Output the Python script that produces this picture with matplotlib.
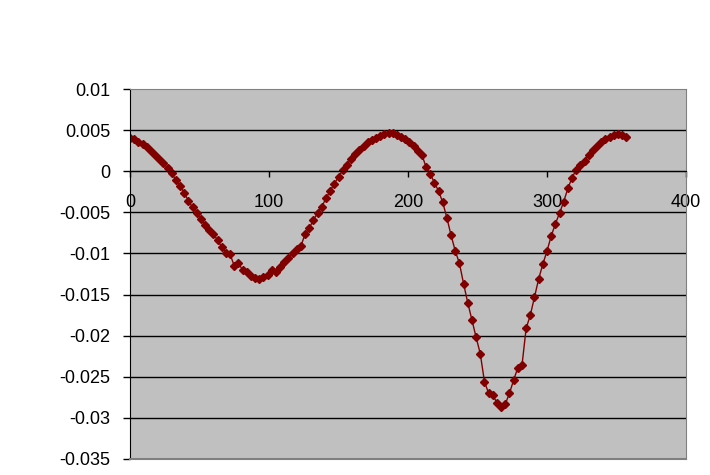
import numpy as np
import matplotlib
matplotlib.use('Agg')
import matplotlib.pyplot as plt

plt.rcParams['font.family'] = ['Liberation Sans', 'DejaVu Sans']

# x sampled every 3 units
angle = np.arange(0, 360, 3)
values = [
    0.0041, 0.0039, 0.0036, 0.0033, 0.0029, 0.0025, 0.0020, 0.0015, 0.0010, 0.0004,
    -0.0002, -0.0011, -0.0018, -0.0026, -0.0036, -0.0044, -0.0051, -0.0058, -0.0065, -0.0071,
    -0.0076, -0.0084, -0.0092, -0.0099, -0.0101, -0.0115, -0.0112, -0.0120, -0.0122, -0.0127,
    -0.0130, -0.0131, -0.0129, -0.0126, -0.0120, -0.0123, -0.0117, -0.0111, -0.0106, -0.0100,
    -0.0095, -0.0091, -0.0076, -0.0069, -0.0059, -0.0051, -0.0043, -0.0033, -0.0024, -0.0015,
    -0.0007, 0.0001, 0.0008, 0.0015, 0.0021, 0.0026, 0.0031, 0.0035, 0.0038, 0.0041,
    0.0043, 0.0045, 0.0046, 0.0046, 0.0044, 0.0042, 0.0039, 0.0036, 0.0031, 0.0025,
    0.0020, 0.0005, -0.0003, -0.0014, -0.0024, -0.0038, -0.0057, -0.0078, -0.0097, -0.0112,
    -0.0137, -0.0160, -0.0181, -0.0202, -0.0222, -0.0256, -0.0270, -0.0272, -0.0282, -0.0287,
    -0.0283, -0.0270, -0.0254, -0.0239, -0.0236, -0.0191, -0.0175, -0.0153, -0.0131, -0.0113,
    -0.0097, -0.0079, -0.0064, -0.0051, -0.0037, -0.0021, -0.0008, 0.0002, 0.0007, 0.0013,
    0.0020, 0.0026, 0.0031, 0.0036, 0.0039, 0.0042, 0.0044, 0.0045, 0.0044, 0.0042,
]
xticks = [0, 100, 200, 300, 400]
yticks = [0.01, 0.005, 0, -0.005, -0.01, -0.015, -0.02, -0.025, -0.03, -0.035]
ytick_labels = ['0.01', '0.005', '0', '-0.005', '-0.01', '-0.015', '-0.02',
                '-0.025', '-0.03', '-0.035']

fig = plt.figure(figsize=(7.1, 4.75), dpi=100)
ax = fig.add_axes([0.1831, 0.0337, 0.7831, 0.7789])
ax.set_facecolor('#C0C0C0')

ax.plot(angle, values, color='#800000', lw=1, marker='D', markersize=4.5,
        markeredgecolor='#800000', markerfacecolor='#800000')

ax.set_xlim(0, 400)
ax.set_ylim(-0.035, 0.01)
ax.set_xticks(xticks)
ax.set_xticklabels([str(t) for t in xticks])
ax.set_yticks(yticks)
ax.set_yticklabels(ytick_labels)

# horizontal gridlines in black
for y in yticks[1:-1]:
    ax.axhline(y, color='black', lw=1, zorder=1)

# frame: left black, others gray; x axis sits at y=0
ax.spines['bottom'].set_position(('data', 0))
ax.spines['bottom'].set_color('black')
ax.spines['left'].set_color('black')
ax.spines['top'].set_color('#808080')
ax.spines['right'].set_color('#808080')
ax.axhline(-0.035, color='#808080', lw=1.5, clip_on=False, zorder=3)

ax.tick_params(axis='y', direction='out', length=5, width=1, pad=9, labelsize=13)
ax.tick_params(axis='x', direction='out', length=4.5, width=1, pad=12, labelsize=13)

fig.savefig('out.png', dpi=100)
